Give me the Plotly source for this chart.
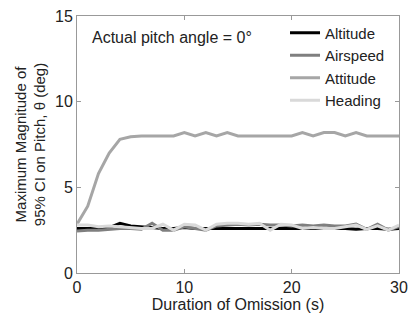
import plotly.graph_objects as go

x = list(range(0, 31))
altitude = [2.6, 2.6, 2.6, 2.65, 2.9, 2.75, 2.7, 2.65, 2.6, 2.6, 2.65, 2.6, 2.6, 2.6, 2.6, 2.6, 2.6, 2.6, 2.6, 2.6, 2.6, 2.6, 2.6, 2.6, 2.6, 2.6, 2.55, 2.6, 2.6, 2.55, 2.6]
airspeed = [2.45, 2.5, 2.5, 2.55, 2.6, 2.6, 2.55, 2.9, 2.5, 2.5, 2.7, 2.6, 2.5, 2.75, 2.8, 2.85, 2.8, 2.85, 2.8, 2.8, 2.75, 2.8, 2.75, 2.8, 2.75, 2.75, 2.85, 2.55, 2.85, 2.5, 2.7]
attitude = [2.85, 3.9, 5.8, 7.0, 7.8, 7.95, 8.0, 8.0, 8.0, 8.0, 8.2, 8.0, 8.2, 8.0, 8.2, 8.0, 8.0, 8.0, 8.0, 8.0, 8.0, 8.2, 8.0, 8.2, 8.2, 8.0, 8.2, 8.0, 8.0, 8.0, 8.0]
heading = [2.8, 2.8, 2.7, 2.75, 2.7, 2.65, 2.6, 2.6, 2.85, 2.5, 2.85, 2.8, 2.5, 2.85, 2.9, 2.9, 2.85, 2.9, 2.5, 2.85, 2.8, 2.6, 2.65, 2.6, 2.6, 2.7, 2.8, 2.55, 2.75, 2.5, 2.8]

series = [
    ("Altitude", altitude, "#000000"),
    ("Airspeed", airspeed, "#7f7f7f"),
    ("Attitude", attitude, "#a6a6a6"),
    ("Heading", heading, "#d9d9d9"),
]

fig = go.Figure()
for name, vals, col in series:
    fig.add_trace(go.Scatter(x=x, y=vals, mode="lines", name=name,
                             line=dict(color=col, width=3)))

font = "Liberation Sans, Arial, sans-serif"
axis_common = dict(showgrid=False, zeroline=False, showline=True, mirror="ticks",
                   linecolor="#999999", linewidth=1, ticks="inside", ticklen=4,
                   tickcolor="#999999", automargin=False,
                   tickfont=dict(size=16, color="#222", family=font))
fig.update_layout(
    width=409, height=317,
    margin=dict(l=77, r=10, t=16, b=44),
    plot_bgcolor="white", paper_bgcolor="white",
    font=dict(family=font, color="#222"),
    xaxis=dict(range=[0, 30], tickvals=[0, 10, 20, 30],
               title=dict(text="Duration of Omission (s)", font=dict(size=16), standoff=3),
               **axis_common),
    yaxis=dict(range=[0, 15], tickvals=[0, 5, 10, 15],
               title=dict(text="Maximum Magnitude of<br>95% CI on Pitch, θ (deg)", font=dict(size=15), standoff=5),
               **axis_common),
    legend=dict(x=0.646, y=0.998, xanchor="left", yanchor="top", bgcolor="rgba(255,255,255,0)",
                font=dict(size=15, color="#222"), tracegroupgap=0, itemwidth=30),
    showlegend=True,
)
fig.add_annotation(text="Actual pitch angle = 0°", xref="paper", yref="paper", x=0.04, y=0.915,
                   xanchor="left", yanchor="middle", showarrow=False, font=dict(size=16, color="#222"))

fig.write_html("out.html", config={"displayModeBar": False},
               post_script="document.body.style.margin='0';document.body.style.overflow='hidden';")
